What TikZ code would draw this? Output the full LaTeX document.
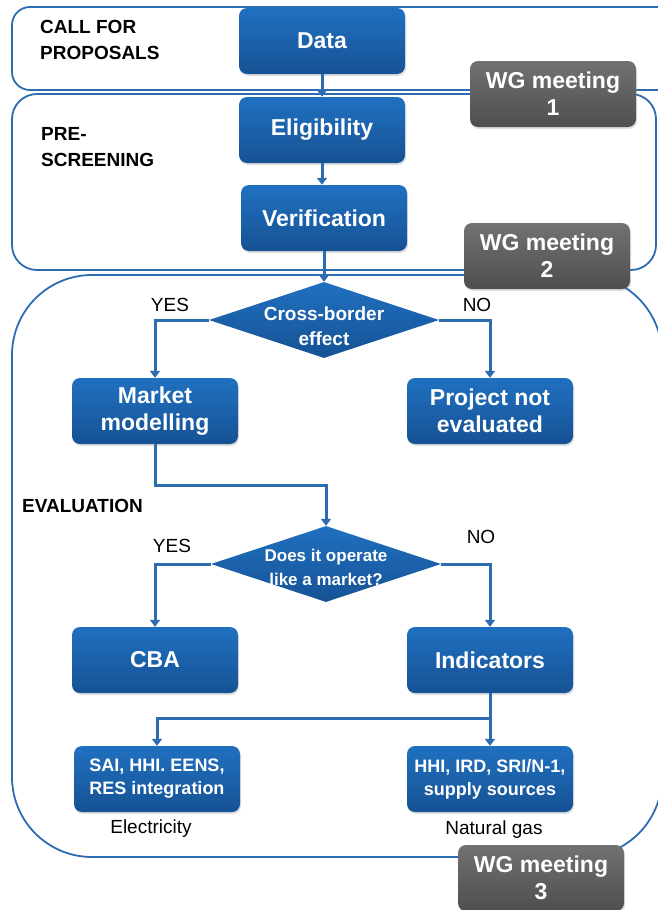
\documentclass[tikz,border=0pt]{standalone}
\usepackage{fontspec}
\setmainfont{Liberation Sans}
\usetikzlibrary{shapes.geometric,arrows.meta,shadows}
\definecolor{boxtop}{RGB}{32,112,192}
\definecolor{boxbot}{RGB}{22,82,148}
\definecolor{wgtop}{RGB}{114,114,114}
\definecolor{wgbot}{RGB}{78,78,78}
\definecolor{flow}{RGB}{46,108,178}

\begin{document}
\begin{tikzpicture}[x=1pt,y=-1pt,
    stepbox/.style={rectangle, rounded corners=8pt, top color=boxtop, bottom color=boxbot,
        text=white, align=center, minimum width=166pt, minimum height=66pt, inner sep=2pt,
        font=\fontsize{23}{27}\selectfont\bfseries,
        drop shadow={opacity=0.25, shadow xshift=1pt, shadow yshift=-2pt}},
    smallbox/.style={stepbox, font=\fontsize{18}{23}\selectfont\bfseries},
    wgbox/.style={stepbox, top color=wgtop, bottom color=wgbot},
    choice/.style={diamond, top color=boxtop, bottom color=boxbot, inner sep=0pt,
        minimum width=230pt, minimum height=76pt},
    choicetext/.style={text=white, align=center, font=\fontsize{19}{25}\selectfont\bfseries},
    panel/.style={draw=flow, line width=1.8pt},
    flowline/.style={draw=flow, line width=3pt, ->, >={Triangle[length=7pt,width=10pt]}},
    tag/.style={font=\fontsize{19}{23}\selectfont},
    phase/.style={font=\fontsize{19}{26}\selectfont\bfseries, align=left, anchor=north west, inner sep=0pt}]

    \useasboundingbox (0,0) rectangle (658,910);
    \clip (0,0) rectangle (658,910);

    % panels
    \draw[panel, rounded corners=18pt] (12,7) rectangle (700,90);
    \draw[panel, rounded corners=25pt] (12,94) rectangle (656,270);
    \draw[panel, rounded corners=80pt] (12,275) rectangle (662,857);

    % phase names
    \node[phase] (call) at (40,20) {CALL FOR\\PROPOSALS};
    \node[phase] (pre) at (41,127) {PRE-\\SCREENING};
    \node[phase] (eval) at (22,499) {EVALUATION};

    % call + pre-screening
    \node[stepbox] (data) at (322,41) {Data};
    \node[stepbox] (elig) at (322,130) {Eligibility};
    \node[stepbox] (verif) at (324,218) {Verification};

    % first decision
    \node[choice] (cross) at (324,320) {};
    \node[choicetext] (crosstext) at (324,326) {Cross-border\\effect};
    \node[stepbox] (model) at (155,411) {Market\\modelling};
    \node[stepbox] (noteval) at (490,411) {Project not\\evaluated};
    \node[tag] (yes1) at (170,305) {YES};
    \node[tag] (no1) at (477,305) {NO};

    % second decision
    \coordinate (bend) at (326,485);
    \node[choice] (market) at (326,564) {};
    \node[choicetext, font=\fontsize{17}{24}\selectfont\bfseries] (markettext) at (326,567) {Does it operate\\like a market?};
    \node[stepbox] (cba) at (155,660) {CBA};
    \node[stepbox] (ind) at (490,660) {Indicators};
    \node[tag] (yes2) at (172,546) {YES};
    \node[tag] (no2) at (481,537) {NO};

    % indicators
    \coordinate (split) at (490,718);
    \node[smallbox] (elec) at (157,779) {SAI, HHI.  EENS,\\RES integration};
    \node[smallbox] (gas) at (490,779) {HHI,  IRD, SRI/N-1,\\supply sources};
    \node[tag] (electext) at (151,829) {Electricity};
    \node[tag] (gastext) at (494,830) {Natural gas};

    % wg meetings
    \node[wgbox] (wg1) at (553,94) {WG meeting\\1};
    \node[wgbox] (wg2) at (547,256) {WG meeting\\2};
    \node[wgbox] (wg3) at (541,878) {WG meeting\\3};

    % arrows
    \draw[flowline] (data) -- (elig);
    \draw[flowline] (elig.south) -- (elig.south |- verif.north);
    \draw[flowline] (verif) -- (cross);
    \draw[flowline] (cross.west) -| (model.north);
    \draw[flowline] (cross.east) -| (noteval.north);
    \draw[flowline] (model.south) |- (bend) -- (market.north);
    \draw[flowline] (market.west) -| (cba.north);
    \draw[flowline] (market.east) -| (ind.north);
    \draw[flowline] (ind.south) -- (split) -| (elec.north);
    \draw[flowline] (split) -- (gas.north);

\end{tikzpicture}
\end{document}
